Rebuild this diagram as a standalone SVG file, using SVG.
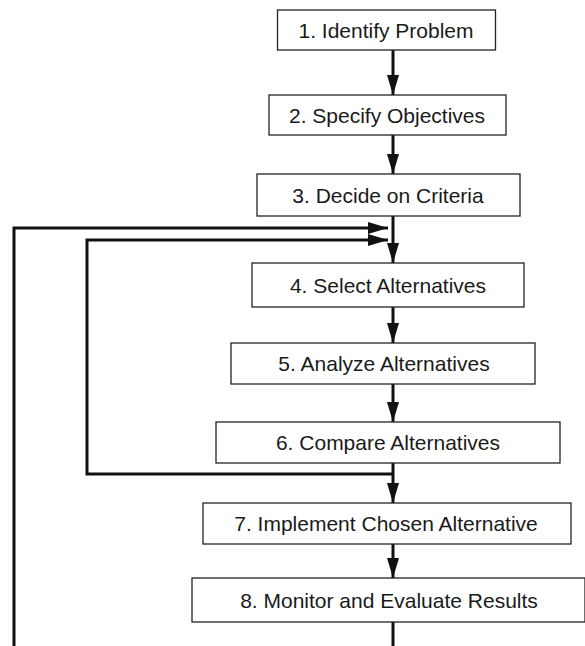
<svg xmlns="http://www.w3.org/2000/svg" width="585" height="646" viewBox="0 0 585 646">
  <style>
    .box { fill: #fff; stroke: #222; stroke-width: 1.3; }
    .lbl { font-family: "Liberation Sans", Arial, sans-serif; font-size: 21px; fill: #1a1a1a; text-anchor: middle; }
    .wire { fill: none; stroke: #111; stroke-width: 3; }
  </style>
  <defs>
    <marker id="arr" viewBox="0 0 20 12" refX="20" refY="6" markerWidth="20" markerHeight="12" markerUnits="userSpaceOnUse" orient="auto">
      <path d="M0,0 L20,6 L0,12 Z" fill="#111"/>
    </marker>
  </defs>

  <g id="connectors">
    <path class="wire" d="M393,50 V95" marker-end="url(#arr)"/>
    <path class="wire" d="M393,135 V174" marker-end="url(#arr)"/>
    <path class="wire" d="M393,216 V263" marker-end="url(#arr)"/>
    <path class="wire" d="M393,307 V343" marker-end="url(#arr)"/>
    <path class="wire" d="M393,384 V422" marker-end="url(#arr)"/>
    <path class="wire" d="M393,463 V503" marker-end="url(#arr)"/>
    <path class="wire" d="M393,544 V578" marker-end="url(#arr)"/>
    <path class="wire" d="M393,622 V646"/>
    <!-- inner loop: back from step 6 to step 4 -->
    <path class="wire" d="M393,474 H87 V240 H388" marker-end="url(#arr)"/>
    <!-- outer loop: back from step 8 to step 4 -->
    <path class="wire" d="M14,646 V228 H388" marker-end="url(#arr)"/>
  </g>

  <g id="n1"><rect class="box" x="277.5" y="10" width="218" height="40"/><text class="lbl" x="386" y="37.5">1. Identify Problem</text></g>
  <g id="n2"><rect class="box" x="269" y="95" width="237" height="40"/><text class="lbl" x="387" y="122.5">2. Specify Objectives</text></g>
  <g id="n3"><rect class="box" x="257" y="174" width="263" height="42"/><text class="lbl" x="388" y="202.5">3. Decide on Criteria</text></g>
  <g id="n4"><rect class="box" x="252" y="263" width="272" height="44"/><text class="lbl" x="388" y="292.5">4. Select Alternatives</text></g>
  <g id="n5"><rect class="box" x="231" y="343" width="304" height="41"/><text class="lbl" x="384" y="371">5. Analyze Alternatives</text></g>
  <g id="n6"><rect class="box" x="216" y="422" width="344" height="41"/><text class="lbl" x="388" y="450">6. Compare Alternatives</text></g>
  <g id="n7"><rect class="box" x="203" y="503" width="368" height="41"/><text class="lbl" x="386" y="531">7. Implement Chosen Alternative</text></g>
  <g id="n8"><rect class="box" x="192" y="578" width="393" height="44"/><text class="lbl" x="389" y="607.5">8. Monitor and Evaluate Results</text></g>
</svg>
